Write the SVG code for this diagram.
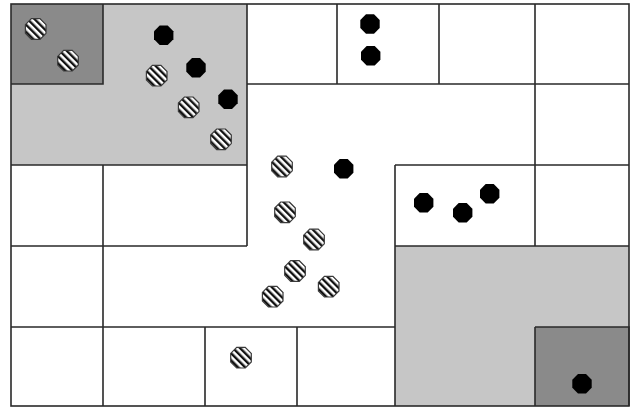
<svg xmlns="http://www.w3.org/2000/svg" xmlns:xlink="http://www.w3.org/1999/xlink" width="631" height="408" viewBox="0 0 631 408">
<style>
.ln{fill:none;stroke:#2a2a2a;stroke-width:1.6}
.lg{fill:#c6c6c6}
.dg{fill:#8a8a8a}
.blk{fill:#000}
.hat{fill:url(#hatch);stroke:#3a3a3a;stroke-width:1.2}
</style>
<defs>
<pattern id="hatch" patternUnits="userSpaceOnUse" width="5" height="5" patternTransform="rotate(-45)">
<rect width="5" height="5" fill="#fff"/>
<rect width="2.4" height="5" fill="#111"/>
</pattern>
<polygon id="oct" points="4,-9.7 9.7,-4 9.7,4 4,9.7 -4,9.7 -9.7,4 -9.7,-4 -4,-9.7"/>
<polygon id="hoct" points="4.3,-10.3 10.3,-4.3 10.3,4.3 4.3,10.3 -4.3,10.3 -10.3,4.3 -10.3,-4.3 -4.3,-10.3"/>
</defs>
<rect width="631" height="408" fill="#fff"/>
<g id="regions">
<rect class="lg" x="11" y="4" width="236" height="161"/>
<rect class="dg" x="11" y="4" width="92" height="80"/>
<rect class="lg" x="395" y="246" width="234" height="160"/>
<rect class="dg" x="535" y="327" width="94" height="79"/>
</g>
<g id="lines">
<rect class="ln" x="11" y="4" width="618" height="402"/>
<path class="ln" d="M103,4V84H11 M247,4V246 M247,84H629 M337,4V84 M439,4V84 M535,4V246 M11,165H247 M395,165H629 M11,246H247 M395,165V406 M395,246H629 M103,165V406 M11,327H395 M205,327V406 M297,327V406 M535,327H629V406 M535,327V406"/>
</g>
<g id="dots-hatched" class="hat">
<use xlink:href="#hoct" x="35.7" y="29"/>
<use xlink:href="#hoct" x="68" y="60.7"/>
<use xlink:href="#hoct" x="156.7" y="75.7"/>
<use xlink:href="#hoct" x="188.7" y="107.3"/>
<use xlink:href="#hoct" x="221" y="139.3"/>
<use xlink:href="#hoct" x="282" y="166.5"/>
<use xlink:href="#hoct" x="285" y="212.3"/>
<use xlink:href="#hoct" x="314" y="239.5"/>
<use xlink:href="#hoct" x="295" y="271"/>
<use xlink:href="#hoct" x="328.7" y="286.7"/>
<use xlink:href="#hoct" x="272.7" y="296.7"/>
<use xlink:href="#hoct" x="241" y="357.7"/>
</g>
<g id="dots-black" class="blk">
<use xlink:href="#oct" x="163.7" y="35.3"/>
<use xlink:href="#oct" x="196" y="67.7"/>
<use xlink:href="#oct" x="228" y="99.3"/>
<use xlink:href="#oct" x="370" y="24"/>
<use xlink:href="#oct" x="370.7" y="55.7"/>
<use xlink:href="#oct" x="343.7" y="168.7"/>
<use xlink:href="#oct" x="423.7" y="202.7"/>
<use xlink:href="#oct" x="462.7" y="212.7"/>
<use xlink:href="#oct" x="489.7" y="193.7"/>
<use xlink:href="#oct" x="582" y="383.7"/>
</g>
</svg>
